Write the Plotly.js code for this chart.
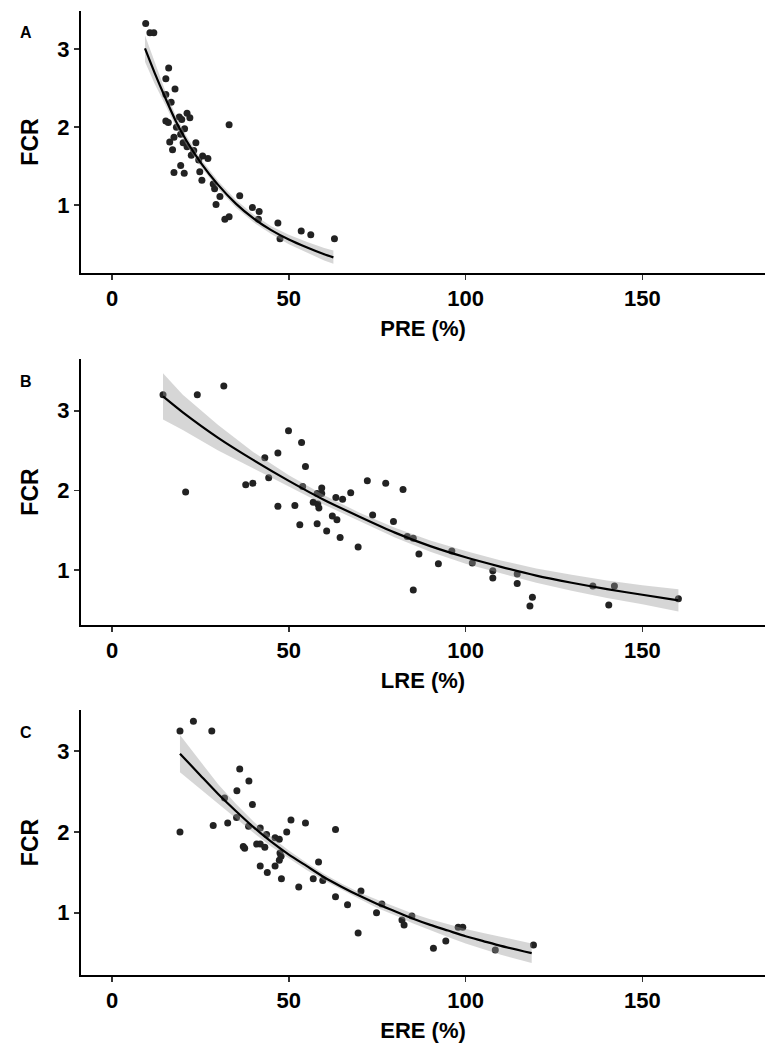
<!DOCTYPE html>
<html>
<head>
<meta charset="utf-8">
<script src="https://cdn.plot.ly/plotly-3.0.1.min.js"></script>
<style>html,body{margin:0;padding:0;background:#fff;}#chart{width:769px;height:1059px;}</style>
</head>
<body>
<div id="chart"></div>
<script>
// ---- Panel A: PRE (%) vs FCR ----
var preX = [9.5,10.7,11.8,16.0,15.2,17.8,15.2,16.7,21.2,22.0,19.0,19.7,15.2,15.9,33.1,18.2,20.5,19.4,17.5,16.3,20.1,23.7,21.2,17.1,23.1,22.4,25.6,27.1,24.5,19.4,17.5,20.4,24.8,25.4,29.0,30.5,36.1,29.4,39.7,41.6,33.1,31.9,41.4,46.9,53.5,56.2,62.9,47.5,28.6];
var preY = [3.33,3.21,3.21,2.76,2.62,2.49,2.42,2.32,2.18,2.12,2.13,2.10,2.08,2.06,2.03,2.00,1.98,1.91,1.87,1.81,1.80,1.80,1.75,1.71,1.70,1.64,1.63,1.60,1.58,1.51,1.42,1.41,1.43,1.32,1.21,1.11,1.12,1.01,0.97,0.92,0.85,0.82,0.82,0.77,0.67,0.62,0.57,0.57,1.27];
var preFitX = [9.3,12,15,18,21,25,30,35,40,45,50,55,60,62.6];
var preFitY = [3.01,2.70,2.38,2.08,1.83,1.55,1.26,1.02,0.83,0.68,0.56,0.46,0.37,0.33];
var preHi   = [3.18,2.84,2.47,2.15,1.89,1.60,1.31,1.07,0.88,0.73,0.62,0.53,0.45,0.42];
var preLo   = [2.84,2.56,2.29,2.01,1.77,1.50,1.21,0.97,0.78,0.63,0.50,0.39,0.29,0.25];

// ---- Panel B: LRE (%) vs FCR ----
var lreX = [14.4,24.1,31.6,20.8,49.9,53.6,46.9,43.2,54.7,37.8,39.8,44.3,53.9,59.3,58.0,59.3,56.9,58.2,58.5,63.3,65.2,67.5,46.9,51.7,62.3,63.6,53.1,58.0,60.7,64.5,69.6,72.2,77.4,82.3,73.7,79.6,85.2,86.8,85.2,83.5,92.3,96.1,101.9,107.7,107.7,114.6,114.6,118.9,136.0,142.1,160.2,118.2,140.5];
var lreY = [3.20,3.20,3.31,1.98,2.75,2.60,2.47,2.41,2.30,2.07,2.09,2.16,2.05,2.03,1.96,1.96,1.85,1.83,1.78,1.91,1.89,1.97,1.80,1.81,1.68,1.63,1.57,1.58,1.49,1.41,1.29,2.12,2.09,2.01,1.69,1.61,1.40,1.20,0.75,1.42,1.08,1.24,1.09,0.99,0.90,0.95,0.83,0.66,0.80,0.80,0.64,0.55,0.56];
var lreFitX = [14.4,20,30,40,50,60,70,80,90,100,110,120,130,140,150,160.2];
var lreFitY = [3.18,2.98,2.66,2.38,2.12,1.88,1.67,1.47,1.30,1.16,1.04,0.93,0.84,0.76,0.69,0.62];
var lreHi   = [3.47,3.20,2.82,2.48,2.19,1.94,1.72,1.53,1.37,1.24,1.12,1.02,0.94,0.87,0.81,0.76];
var lreLo   = [2.89,2.76,2.50,2.28,2.05,1.82,1.62,1.41,1.23,1.08,0.96,0.84,0.74,0.65,0.57,0.48];

// ---- Panel C: ERE (%) vs FCR ----
var ereX = [19.2,23.0,28.2,19.2,36.1,38.7,35.3,39.7,31.8,35.2,28.6,32.7,38.6,41.9,50.6,54.7,63.2,49.4,43.7,46.1,47.3,40.9,41.9,37.1,37.5,43.2,47.5,47.8,47.3,46.1,41.9,43.9,47.9,58.4,56.9,59.6,52.8,63.2,66.6,70.4,74.8,69.6,76.3,82.0,82.6,84.8,90.9,94.4,97.9,99.2,108.4,119.2];
var ereY = [3.25,3.37,3.25,2.00,2.78,2.63,2.51,2.34,2.42,2.18,2.08,2.11,2.07,2.05,2.15,2.11,2.03,2.00,1.97,1.93,1.91,1.85,1.85,1.82,1.80,1.81,1.74,1.70,1.65,1.58,1.58,1.50,1.42,1.63,1.42,1.40,1.32,1.20,1.10,1.27,1.00,0.75,1.11,0.91,0.85,0.96,0.56,0.65,0.82,0.82,0.54,0.60];
var ereFitX = [19.2,25,30,35,40,45,50,55,60,65,70,75,80,85,90,95,100,105,110,118.7];
var ereFitY = [2.97,2.70,2.47,2.26,2.06,1.88,1.72,1.58,1.44,1.32,1.21,1.11,1.02,0.93,0.85,0.78,0.71,0.65,0.59,0.50];
var ereHi   = [3.20,2.87,2.59,2.35,2.13,1.94,1.77,1.62,1.48,1.36,1.25,1.16,1.07,0.99,0.92,0.86,0.80,0.75,0.70,0.62];
var ereLo   = [2.74,2.53,2.35,2.17,1.99,1.82,1.67,1.53,1.40,1.28,1.17,1.06,0.97,0.87,0.78,0.70,0.62,0.55,0.48,0.38];

var xTickVals = [0,50,100,150];
var yTickVals = [1,2,3];
var xTitles = ['PRE (%)','LRE (%)','ERE (%)'];
var yTitle = 'FCR';
var panelLetters = ['A','B','C'];

var FONT = 'Liberation Sans, Arial, Helvetica, sans-serif';
var W = 769, H = 1059;

var panels = [
  {x: preX, y: preY, fx: preFitX, fy: preFitY, hi: preHi, lo: preLo, yr: [0.13,3.49], top: 11, bot: 273},
  {x: lreX, y: lreY, fx: lreFitX, fy: lreFitY, hi: lreHi, lo: lreLo, yr: [0.31,3.65], top: 359, bot: 625},
  {x: ereX, y: ereY, fx: ereFitX, fy: ereFitY, hi: ereHi, lo: ereLo, yr: [0.23,3.51], top: 710, bot: 975}
];

var traces = [];
var layout = {
  width: W, height: H,
  margin: {l: 0, r: 0, t: 0, b: 0},
  paper_bgcolor: '#fff', plot_bgcolor: '#fff',
  showlegend: false,
  font: {family: FONT, color: '#000'},
  annotations: []
};

panels.forEach(function(p, i) {
  var n = i === 0 ? '' : String(i + 1);
  var xa = 'x' + n, ya = 'y' + n;
  traces.push({x: p.x, y: p.y, xaxis: xa, yaxis: ya, type: 'scatter', mode: 'markers',
    marker: {size: 7, color: '#222222'}, hoverinfo: 'skip'});
  traces.push({x: p.fx, y: p.lo, xaxis: xa, yaxis: ya, type: 'scatter', mode: 'lines',
    line: {width: 0, color: 'rgba(0,0,0,0)'}, hoverinfo: 'skip'});
  traces.push({x: p.fx, y: p.hi, xaxis: xa, yaxis: ya, type: 'scatter', mode: 'lines',
    fill: 'tonexty', fillcolor: 'rgba(153,153,153,0.4)',
    line: {width: 0, color: 'rgba(0,0,0,0)'}, hoverinfo: 'skip'});
  traces.push({x: p.fx, y: p.fy, xaxis: xa, yaxis: ya, type: 'scatter', mode: 'lines',
    line: {width: 2.2, color: '#000', shape: 'spline', smoothing: 0.6}, hoverinfo: 'skip'});

  layout['xaxis' + n] = {
    domain: [81 / W, 765 / W], anchor: ya, range: [-8.8, 184.7],
    tickmode: 'array', tickvals: xTickVals,
    showgrid: false, zeroline: false, showline: true, linecolor: '#000', linewidth: 2,
    ticks: 'outside', ticklen: 5, tickwidth: 1.5, tickcolor: '#333',
    tickfont: {family: FONT, size: 22, color: '#000', weight: 'bold'},
    title: {text: xTitles[i], font: {family: FONT, size: 22, color: '#000', weight: 'bold'}, standoff: 10},
    automargin: false, fixedrange: true
  };
  layout['yaxis' + n] = {
    domain: [1 - p.bot / H, 1 - p.top / H], anchor: xa, range: p.yr,
    tickmode: 'array', tickvals: yTickVals,
    showgrid: false, zeroline: false, showline: true, linecolor: '#000', linewidth: 2,
    ticks: 'outside', ticklen: 5, tickwidth: 1.5, tickcolor: '#333',
    tickfont: {family: FONT, size: 22, color: '#000', weight: 'bold'},
    title: {text: yTitle, font: {family: FONT, size: 23, color: '#000', weight: 'bold'}, standoff: 12},
    automargin: false, fixedrange: true
  };
  layout.annotations.push({
    text: panelLetters[i], xref: 'paper', yref: 'paper',
    x: 26 / W, y: 1 - (p.top + 22) / H, xanchor: 'center', yanchor: 'middle',
    showarrow: false, font: {family: FONT, size: 16, color: '#000', weight: 'bold'}
  });
});

Plotly.newPlot('chart', traces, layout, {staticPlot: true, displayModeBar: false});
</script>
</body>
</html>
